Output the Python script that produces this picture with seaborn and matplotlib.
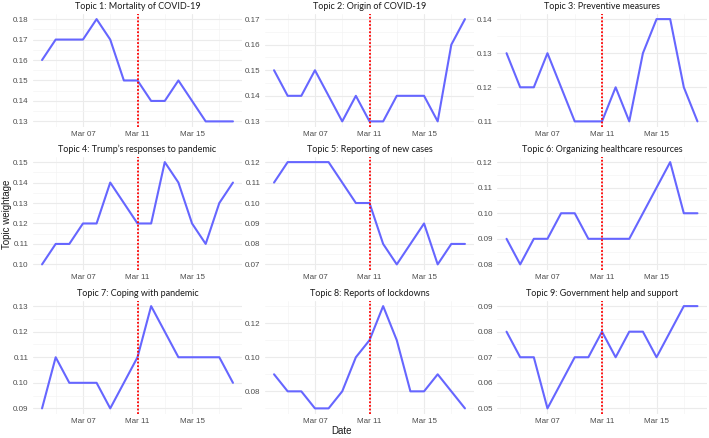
import numpy as np
import pandas as pd
import matplotlib
matplotlib.use("Agg")
import matplotlib.pyplot as plt
import matplotlib.dates as mdates
from matplotlib.ticker import MultipleLocator, FormatStrFormatter
import seaborn as sns

dates = pd.date_range("2020-03-04", "2020-03-18", freq="D")

titles = [
    "Topic 1: Mortality of COVID-19",
    "Topic 2: Origin of COVID-19",
    "Topic 3: Preventive measures",
    "Topic 4: Trump\u2019s responses to pandemic",
    "Topic 5: Reporting of new cases",
    "Topic 6: Organizing healthcare resources",
    "Topic 7: Coping with pandemic",
    "Topic 8: Reports of lockdowns",
    "Topic 9: Government help and support",
]

topic1 = [0.16, 0.17, 0.17, 0.17, 0.18, 0.17, 0.15, 0.15, 0.14, 0.14, 0.15, 0.14, 0.13, 0.13, 0.13]
topic2 = [0.15, 0.14, 0.14, 0.15, 0.14, 0.13, 0.14, 0.13, 0.13, 0.14, 0.14, 0.14, 0.13, 0.16, 0.17]
topic3 = [0.13, 0.12, 0.12, 0.13, 0.12, 0.11, 0.11, 0.11, 0.12, 0.11, 0.13, 0.14, 0.14, 0.12, 0.11]
topic4 = [0.10, 0.11, 0.11, 0.12, 0.12, 0.14, 0.13, 0.12, 0.12, 0.15, 0.14, 0.12, 0.11, 0.13, 0.14]
topic5 = [0.11, 0.12, 0.12, 0.12, 0.12, 0.11, 0.10, 0.10, 0.08, 0.07, 0.08, 0.09, 0.07, 0.08, 0.08]
topic6 = [0.09, 0.08, 0.09, 0.09, 0.10, 0.10, 0.09, 0.09, 0.09, 0.09, 0.10, 0.11, 0.12, 0.10, 0.10]
topic7 = [0.09, 0.11, 0.10, 0.10, 0.10, 0.09, 0.10, 0.11, 0.13, 0.12, 0.11, 0.11, 0.11, 0.11, 0.10]
topic8 = [0.09, 0.08, 0.08, 0.07, 0.07, 0.08, 0.10, 0.11, 0.13, 0.11, 0.08, 0.08, 0.09, 0.08, 0.07]
topic9 = [0.08, 0.07, 0.07, 0.05, 0.06, 0.07, 0.07, 0.08, 0.07, 0.08, 0.08, 0.07, 0.08, 0.09, 0.09]
series = [topic1, topic2, topic3, topic4, topic5, topic6, topic7, topic8, topic9]

event_date = pd.Timestamp("2020-03-11")
major_x = pd.to_datetime(["2020-03-07", "2020-03-11", "2020-03-15"])
minor_x = pd.to_datetime(["2020-03-05", "2020-03-09", "2020-03-13", "2020-03-17"])

sns.set_theme(style="white")
plt.rcParams["font.family"] = ["Liberation Sans", "DejaVu Sans"]

W, H = 709, 438
fig = plt.figure(figsize=(W / 100, H / 100), dpi=100)

col_left = [32.5, 264.5, 497.0]
row_top = [14.0, 157.0, 301.0]
pw, ph = 210.0, 112.5

line_color = "#6666FF"
grid_major = "#EBEBEB"
grid_minor = "#F4F4F4"

axes = []
for i, (title, vals) in enumerate(zip(titles, series)):
    r, c = divmod(i, 3)
    ax = fig.add_axes([col_left[c] / W, 1 - (row_top[r] + ph) / H, pw / W, ph / H])
    df = pd.DataFrame({"date": dates, "value": vals})
    sns.lineplot(data=df, x="date", y="value", ax=ax, color=line_color, linewidth=1.5)
    ax.axvline(event_date, color="red", linestyle=(0, (1, 1)), linewidth=1.3, zorder=3)

    span = (dates[-1] - dates[0])
    pad = span * 0.05
    ax.set_xlim(dates[0] - pad, dates[-1] + pad)
    vmin, vmax = min(vals), max(vals)
    ypad = (vmax - vmin) * 0.05
    ax.set_ylim(vmin - ypad, vmax + ypad)

    ax.set_xticks(major_x)
    ax.set_xticks(minor_x, minor=True)
    ax.xaxis.set_major_formatter(mdates.DateFormatter("%b %d"))
    if i == 7:
        ax.yaxis.set_major_locator(MultipleLocator(0.02))
        ax.yaxis.set_minor_locator(MultipleLocator(0.01))
    else:
        ax.yaxis.set_major_locator(MultipleLocator(0.01))
        ax.yaxis.set_minor_locator(MultipleLocator(0.005))
    ax.yaxis.set_major_formatter(FormatStrFormatter("%.2f"))

    ax.grid(which="major", color=grid_major, linewidth=0.8)
    ax.grid(which="minor", color=grid_minor, linewidth=0.5)
    ax.set_axisbelow(True)
    for s in ax.spines.values():
        s.set_visible(False)
    ax.tick_params(axis="both", which="both", length=0, labelsize=5.8,
                   labelcolor="#4D4D4D", pad=3)
    ax.set_xlabel("")
    ax.set_ylabel("")
    ax.set_title(title, fontsize=6.5, family=["Lato", "DejaVu Sans"], color="#1A1A1A", pad=3.5)
    ax.set_facecolor("white")
    axes.append(ax)

fig.text(341 / W, 1 - 431 / H, "Date", ha="center", va="center", fontsize=7, color="#1A1A1A")
fig.text(7 / W, 1 - 214 / H, "Topic weightage", ha="center", va="center", rotation=90,
         fontsize=7, color="#1A1A1A")

fig.savefig("out.png", dpi=100, facecolor="white")
